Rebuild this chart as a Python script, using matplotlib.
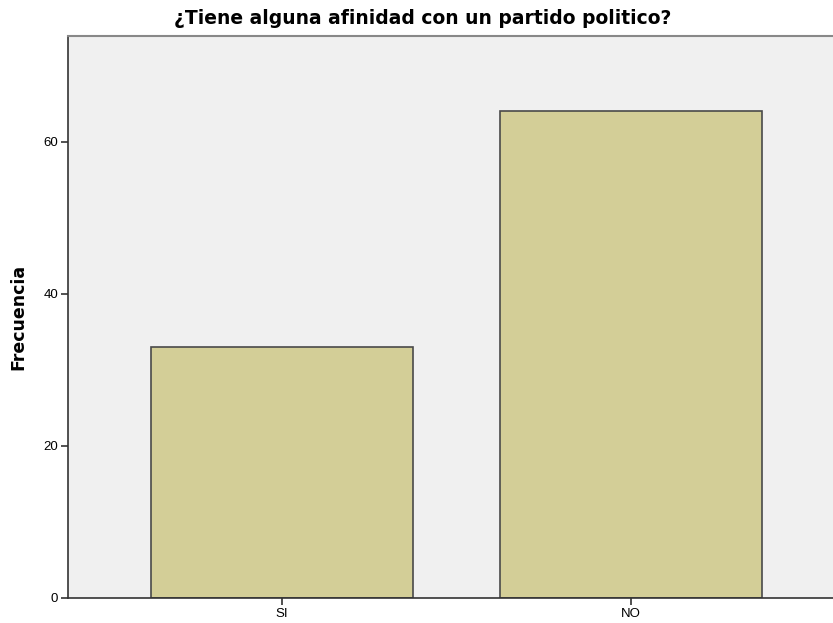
import matplotlib
matplotlib.use("Agg")
import matplotlib.pyplot as plt

categories = ["SI", "NO"]
values = [33, 64]
yticks = [0, 20, 40, 60]

plt.rcParams['font.family'] = ['Liberation Sans', 'DejaVu Sans']

fig = plt.figure(figsize=(8.33, 6.23), dpi=100)
ax = fig.add_axes([68/833, 25/623, (833-68)/833, (598-36)/623])
ax.set_facecolor('#f0f0f0')
x = list(range(len(categories)))
ax.bar(x, values, width=0.751, color='#d3ce97', edgecolor='#4a4a4a', linewidth=1.2, zorder=2)
ax.set_xlim(-0.613, 1.579)
ax.set_ylim(0, 73.9)
ax.set_xticks(x)
ax.set_xticklabels(categories, fontsize=9.5)
ax.set_yticks(yticks)
ax.set_yticklabels([str(t) for t in yticks], fontsize=9.5)
ax.tick_params(axis='both', length=5, width=1.2, color='#333333', pad=2)
ax.spines['right'].set_visible(False)
ax.spines['top'].set_color('#888888')
ax.spines['top'].set_linewidth(1.5)
for s in ['left', 'bottom']:
    ax.spines[s].set_color('#333333')
    ax.spines[s].set_linewidth(1.2)
fig.text(18/833, 1 - 317/623, 'Frecuencia', rotation=90, ha='center', va='center',
         fontsize=12.5, fontweight='bold', family=['DejaVu Sans'])
fig.text(423/833, 1 - 19/623, '¿Tiene alguna afinidad con un partido politico?',
         ha='center', va='center', fontsize=13.5, fontweight='bold',
         family=['DejaVu Sans'])
fig.savefig('out.png', dpi=100)
